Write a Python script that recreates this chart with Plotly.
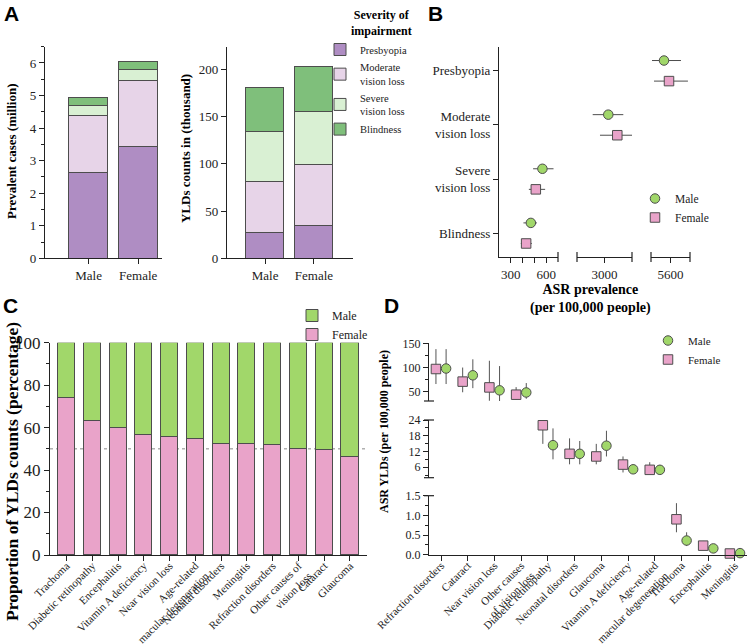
import plotly.graph_objects as go

W, H = 749, 644
SERIF = "Liberation Serif"
SANS = "Liberation Sans"
INK = "#222222"
EDGE = "#4d4d4d"

# ---------------- data ----------------
sexes = ["Male", "Female"]
severity_names = ["Presbyopia", "Moderate<br>vision loss", "Severe<br>vision loss", "Blindness"]
severity_colors = ["#af8dc3", "#e7d4e8", "#d9f0d3", "#7fbf7b"]

# A: prevalent cases (million), stacked by severity
prev_presbyopia = [2.64, 3.42]
prev_moderate = [1.75, 2.04]
prev_severe = [0.29, 0.32]
prev_blindness = [0.26, 0.26]
# A: YLD counts (thousand)
yld_presbyopia = [27.6, 35.0]
yld_moderate = [53.1, 63.8]
yld_severe = [53.8, 55.9]
yld_blindness = [46.0, 48.1]

# B: ASR prevalence (per 100,000) with uncertainty intervals
asr_male = [5367, 3138, 568, 470]
asr_male_lo = [4936, 2571, 489, 407]
asr_male_hi = [5976, 3684, 662, 521]
asr_female = [5546, 3465, 512, 430]
asr_female_lo = [5008, 2836, 453, 385]
asr_female_hi = [6226, 4011, 591, 478]

# C: share of YLD counts (%)
causes_c = ["Trachoma", "Diabetic retinopathy", "Encephalitis", "Vitamin A deficiency",
            "Near vision loss", "Age-related<br>macular degeneration", "Neonatal disorders",
            "Meningitis", "Refraction disorders", "Other causes of<br>vision loss",
            "Cataract", "Glaucoma"]
share_female = [74.1, 63.4, 60.0, 56.7, 55.9, 54.9, 52.6, 52.4, 52.1, 50.1, 49.5, 46.2]
share_male = [25.9, 36.6, 40.0, 43.3, 44.1, 45.1, 47.4, 47.6, 47.9, 49.9, 50.5, 53.8]

# D: ASR YLDs (per 100,000) with uncertainty intervals
causes_d = ["Refraction disorders", "Cataract", "Near vision loss", "Other causes<br>of vision loss",
            "Diabetic retinopathy", "Neonatal disorders", "Glaucoma", "Vitamin A deficiency",
            "Age-related<br>macular degeneration", "Trachoma", "Encephalitis", "Meningitis"]
ysld_female = [97, 71, 59, 44, 22.0, 11.1, 10.1, 7.0, 5.0, 0.90, 0.23, 0.03]
ysld_female_lo = [66, 49, 31.5, 33.6, 14.9, 7.1, 7.1, 4.0, 3.7, 0.57, 0.14, 0.01]
ysld_female_hi = [138, 100, 114, 59.6, 28.4, 17.0, 14.9, 10.1, 7.9, 1.31, 0.35, 0.06]
ysld_male = [98, 84, 53, 48.6, 14.4, 11.1, 14.2, 5.2, 5.0, 0.36, 0.16, 0.04]
ysld_male_lo = [66, 57.5, 23, 35.6, 9.0, 7.1, 10.1, 3.7, 4.0, 0.22, 0.10, 0.02]
ysld_male_hi = [138, 117, 103, 68, 20.8, 16.0, 19.9, 7.1, 6.9, 0.57, 0.25, 0.07]

MALE_C = "#a1d76a"
FEMALE_C = "#e9a3c9"


def xdom(a, b):
    return [a / W, b / W]


def ydom(top, bottom):
    return [1 - bottom / H, 1 - top / H]


def ax(**kw):
    base = dict(showline=True, linecolor=INK, linewidth=1.2, ticks="outside", ticklen=5,
                tickwidth=1.2, tickcolor=INK, showgrid=False, zeroline=False, automargin=False,
                tickfont=dict(family=SERIF, size=13, color=INK))
    base.update(kw)
    return base


fig = go.Figure()

# ---------------- A ----------------
prev_stack = [prev_presbyopia, prev_moderate, prev_severe, prev_blindness]
yld_stack = [yld_presbyopia, yld_moderate, yld_severe, yld_blindness]
for k in range(4):
    fig.add_trace(go.Bar(x=sexes, y=prev_stack[k], name=severity_names[k], width=0.79,
                         marker=dict(color=severity_colors[k], line=dict(color=EDGE, width=1)),
                         xaxis="x", yaxis="y", legend="legend", showlegend=True))
    fig.add_trace(go.Bar(x=sexes, y=yld_stack[k], name=severity_names[k], width=0.78,
                         marker=dict(color=severity_colors[k], line=dict(color=EDGE, width=1)),
                         xaxis="x2", yaxis="y2", showlegend=False))

# ---------------- B ----------------
b_segments = [("x3", 200, 700), ("x4", 2000, 4000), ("x5", 4900, 6300)]
b_series = [("Male", asr_male, asr_male_lo, asr_male_hi, MALE_C, "circle", 0.19),
            ("Female", asr_female, asr_female_lo, asr_female_hi, FEMALE_C, "square", -0.19)]
for name, vals, lo, hi, col, sym, off in b_series:
    first = True
    for xa, s0, s1 in b_segments:
        idx = [i for i, v in enumerate(vals) if s0 <= v <= s1]
        if not idx:
            continue
        fig.add_trace(go.Scatter(
            x=[vals[i] for i in idx], y=[3 - i + off for i in idx], mode="markers", name=name,
            marker=dict(symbol=sym, size=9.5, color=col, line=dict(color=EDGE, width=1)),
            error_x=dict(type="data", symmetric=False, array=[hi[i] - vals[i] for i in idx],
                         arrayminus=[vals[i] - lo[i] for i in idx], color=EDGE, thickness=1, width=0),
            xaxis=xa, yaxis="y3", cliponaxis=False, legend="legend2", showlegend=first))
        first = False

# ---------------- C ----------------
fig.add_trace(go.Bar(x=causes_c, y=share_female, name="Female", width=0.66,
                     marker=dict(color=FEMALE_C, line=dict(color=EDGE, width=1)),
                     xaxis="x6", yaxis="y4", legend="legend3"))
fig.add_trace(go.Bar(x=causes_c, y=share_male, name="Male", width=0.66,
                     marker=dict(color=MALE_C, line=dict(color=EDGE, width=1)),
                     xaxis="x6", yaxis="y4", legend="legend3"))

# ---------------- D ----------------
d_segments = [("y5", 30, 1000), ("y6", 1.5, 30), ("y7", -1, 1.5)]
d_series = [("Male", ysld_male, ysld_male_lo, ysld_male_hi, MALE_C, "circle", 0.19, 1),
            ("Female", ysld_female, ysld_female_lo, ysld_female_hi, FEMALE_C, "square", -0.19, 2)]
for name, vals, lo, hi, col, sym, off, rank in d_series:
    first = True
    for ya, s0, s1 in d_segments:
        idx = [i for i, v in enumerate(vals) if s0 <= v < s1]
        if not idx:
            continue
        fig.add_trace(go.Scatter(
            x=[i + off for i in idx], y=[vals[i] for i in idx], mode="markers", name=name,
            marker=dict(symbol=sym, size=9.5, color=col, line=dict(color=EDGE, width=1)),
            error_y=dict(type="data", symmetric=False, array=[hi[i] - vals[i] for i in idx],
                         arrayminus=[vals[i] - lo[i] for i in idx], color="#555555", thickness=1, width=0),
            xaxis="x7", yaxis=ya, cliponaxis=False, legend="legend4", legendrank=rank,
            showlegend=first))
        first = False

# ---------------- layout ----------------
A_Y = ydom(46.7, 258.3)
B_Y = ydom(47, 257)
C_Y = ydom(342.7, 555)
D1, D2, D3 = ydom(343.3, 401), ydom(420, 477.7), ydom(495.7, 554.7)
B1, B2, B3 = xdom(499, 558), xdom(577, 632), xdom(651, 690)

fig.update_layout(
    template="none",
    width=W, height=H, autosize=False, margin=dict(l=0, r=0, t=0, b=0, autoexpand=False),
    paper_bgcolor="white", plot_bgcolor="white", barmode="stack", bargap=0,
    font=dict(family=SERIF, size=13, color=INK),
    xaxis=ax(domain=xdom(45, 162), anchor="y", range=[-0.88, 1.48]),
    yaxis=ax(domain=A_Y, anchor="x", range=[0, 6.5], tickvals=[0, 1, 2, 3, 4, 5, 6],
             minor=dict(ticks="outside", ticklen=3, dtick=0.5, tickcolor=INK)),
    xaxis2=ax(domain=xdom(227, 353), anchor="y2", range=[-0.78, 1.8]),
    yaxis2=ax(domain=A_Y, anchor="x2", range=[0, 224], tickvals=[0, 50, 100, 150, 200]),
    yaxis3=ax(domain=B_Y, anchor="x3", range=[-0.44, 3.44], tickvals=[3, 2, 1, 0],
              ticktext=severity_names),
    xaxis3=ax(domain=B1, anchor="y3", range=[200, 700], tickvals=[300, 600],
              minor=dict(ticks="outside", ticklen=5, tickvals=[400, 500], tickcolor=INK)),
    xaxis4=ax(domain=B2, anchor="y3", range=[2000, 4000], tickvals=[3000]),
    xaxis5=ax(domain=B3, anchor="y3", range=[4900, 6300], tickvals=[5600]),
    xaxis6=ax(domain=xdom(50, 367), anchor="y4", range=[-0.64, 11.66], tickangle=-45,
              ticklabelstandoff=-6, tickfont=dict(family=SERIF, size=11, color=INK)),
    yaxis4=ax(domain=C_Y, anchor="x6", range=[0, 100], tickvals=[0, 20, 40, 60, 80, 100],
              tickfont=dict(family=SERIF, size=17, color=INK),
              minor=dict(ticks="outside", ticklen=3, dtick=10, tickcolor=INK)),
    xaxis7=ax(domain=xdom(429, 747), anchor="y7", range=[-0.45, 11.45],
              tickvals=list(range(len(causes_d))), ticktext=causes_d, tickangle=-45,
              ticklabelstandoff=-6, tickfont=dict(family=SERIF, size=11, color=INK)),
    yaxis5=ax(domain=D1, anchor="x7", range=[31, 150], tickvals=[50, 100, 150],
              tickfont=dict(family=SERIF, size=12, color=INK),
              minor=dict(ticks="outside", ticklen=3, tickvals=[75, 125], tickcolor=INK)),
    yaxis6=ax(domain=D2, anchor="x7", range=[2, 24], tickvals=[6, 12, 18, 24],
              tickfont=dict(family=SERIF, size=12, color=INK),
              minor=dict(ticks="outside", ticklen=3, tickvals=[3, 9, 15, 21], tickcolor=INK)),
    yaxis7=ax(domain=D3, anchor="x7", range=[0, 1.5], tickvals=[0, 0.5, 1, 1.5],
              ticktext=["0.0", "0.5", "1.0", "1.5"],
              tickfont=dict(family=SERIF, size=12, color=INK),
              minor=dict(ticks="outside", ticklen=3, tickvals=[0.25, 0.75, 1.25], tickcolor=INK)),
    legend=dict(x=320 / W, y=1 - 35 / H, xanchor="left", yanchor="top", bgcolor="rgba(0,0,0,0)",
                font=dict(family=SERIF, size=10.5, color=INK), traceorder="normal"),
    legend2=dict(x=635 / W, y=1 - 184 / H, xanchor="left", yanchor="top", bgcolor="rgba(0,0,0,0)",
                 font=dict(family=SERIF, size=11.5, color=INK)),
    legend3=dict(x=292 / W, y=1 - 301 / H, xanchor="left", yanchor="top", bgcolor="rgba(0,0,0,0)",
                 font=dict(family=SERIF, size=12, color=INK), traceorder="reversed"),
    legend4=dict(x=648 / W, y=1 - 326 / H, xanchor="left", yanchor="top", bgcolor="rgba(0,0,0,0)",
                 font=dict(family=SERIF, size=11, color=INK)),
)

# 50 % reference line in C
fig.add_shape(type="line", xref="x6 domain", yref="y4", x0=0, x1=1, y0=50, y1=50,
              line=dict(color="#888888", width=1, dash="dot"), layer="below")

# break caps on the broken axes
for xb in [B1[1], B2[0], B2[1], B3[0], B3[1]]:
    fig.add_shape(type="line", xref="paper", yref="paper", x0=xb, x1=xb,
                  y0=B_Y[0] - 5 / H, y1=B_Y[0] + 5 / H, line=dict(color=INK, width=1.2))
for yb in [D1[0], D2[1], D2[0], D3[1]]:
    fig.add_shape(type="line", xref="paper", yref="paper", x0=(429 - 5) / W, x1=(429 + 5) / W,
                  y0=yb, y1=yb, line=dict(color=INK, width=1.2))


def note(text, x, y, size=13, angle=0, bold=True, family=SERIF, align="center"):
    t = f"<b>{text}</b>" if bold else text
    fig.add_annotation(text=t, x=x / W, y=1 - y / H, xref="paper", yref="paper", showarrow=False,
                       textangle=angle, align=align, xanchor="center", yanchor="middle",
                       font=dict(family=family, size=size, color="black"))


note("A", 11, 14, size=21, family=SANS)
note("B", 435, 14, size=21, family=SANS)
note("C", 10, 306, size=21, family=SANS)
note("D", 391, 306, size=21, family=SANS)

note("Prevalent cases (million)", 11, 151, angle=-90)
note("YLDs counts in (thousand)", 186, 149, angle=-90)
note("Severity of<br>impairment", 381, 23, size=12)
note("ASR prevalence<br>(per 100,000 people)", 590, 299, size=14)
note("Proportion of YLDs counts (percentage)", 12, 472, size=17.5, angle=-90)
note("ASR YLDs (per 100,000 people)", 384, 432, size=12, angle=-90)

# the page's default body margin would push the figure 8 px off its frame
fig.write_html("out.html", config={"displayModeBar": False},
               post_script="document.body.style.margin='0';document.body.style.overflow='hidden';")
